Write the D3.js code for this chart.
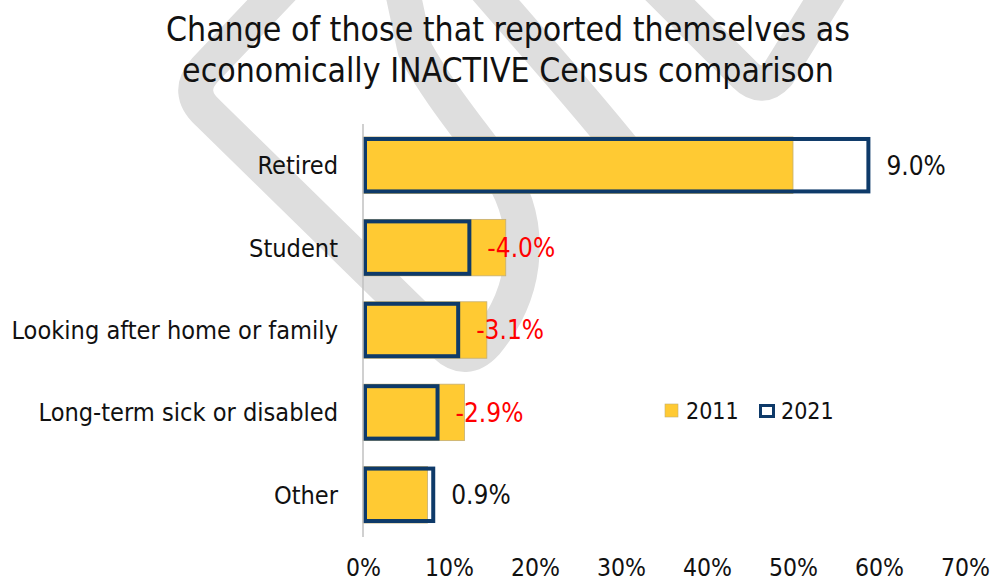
<!DOCTYPE html>
<html>
<head>
<meta charset="utf-8">
<script src="https://cdn.jsdelivr.net/npm/d3@7"></script>
<style>
  html, body { margin: 0; padding: 0; background: #ffffff; }
  svg { display: block; font-family: "DejaVu Sans Condensed", "DejaVu Sans", sans-serif; }
</style>
</head>
<body>
<svg id="chart" width="993" height="584"></svg>
<script>
// Economically inactive population by reason, share (%) at each Census
const categories = ["Retired", "Student", "Looking after home or family", "Long-term sick or disabled", "Other"];
const values2011 = [50.0, 16.6, 14.4, 11.8, 7.5];
const values2021 = [59.0, 12.6, 11.3, 8.9, 8.4];
const seriesNames = ["2011", "2021"];
const xTicks = [0, 10, 20, 30, 40, 50, 60, 70];
const titleLines = ["Change of those that reported themselves as", "economically INACTIVE Census comparison"];

const COLOR_2011 = "#ffca33";
const COLOR_2021 = "#0e3a69";
const svg = d3.select("#chart");

// Faint background emblem
const wm = svg.append("g")
  .attr("fill", "none")
  .attr("stroke", "#dedede")
  .attr("stroke-width", 35)
  .attr("stroke-linecap", "round")
  .attr("stroke-linejoin", "round");
wm.append("path").attr("d",
  "M 300,-30 L 205,70 Q 185,92 208,113 L 445,345 Q 466,365 486,343 " +
  "C 530,290 535,220 495,165 C 470,130 440,95 415,50 L 400,-20");
wm.append("path").attr("d", "M 470,-30 C 530,40 585,100 640,170");
wm.append("path").attr("d", "M 640,-30 L 745,75 Q 762,92 778,74 L 830,-10");

const x = d3.scaleLinear().domain([0, 70]).range([363, 965]);
const y = d3.scaleBand().domain(categories).range([124, 536])
  .paddingInner(0.315).paddingOuter(0.1575);

// Title
svg.append("g").selectAll("text").data(titleLines).join("text")
  .attr("x", 508).attr("y", (d, i) => 41 + i * 41)
  .attr("text-anchor", "middle")
  .attr("font-size", 33.5).attr("fill", "#111")
  .text(d => d);

const rows = categories.map((c, i) => ({
  cat: c, v11: values2011[i], v21: values2021[i], diff: values2021[i] - values2011[i]
}));

// 2011 bars (filled)
svg.append("g").selectAll("rect").data(rows).join("rect")
  .attr("x", x(0)).attr("y", d => y(d.cat))
  .attr("width", d => x(d.v11) - x(0))
  .attr("height", y.bandwidth())
  .attr("fill", COLOR_2011)
  .attr("stroke", "#c4ae72").attr("stroke-width", 0.8);

// 2021 bars (outline only)
const sw = 4;
svg.append("g").selectAll("rect").data(rows).join("rect")
  .attr("x", x(0) + sw / 2).attr("y", d => y(d.cat) + sw / 2)
  .attr("width", d => x(d.v21) - x(0) - sw)
  .attr("height", y.bandwidth() - sw)
  .attr("fill", "none")
  .attr("stroke", COLOR_2021).attr("stroke-width", sw);

// Vertical axis line
svg.append("line")
  .attr("x1", x(0)).attr("x2", x(0))
  .attr("y1", 124).attr("y2", 537)
  .attr("stroke", "#c0c0c0").attr("stroke-width", 1.5);

// Category labels
svg.append("g").selectAll("text").data(rows).join("text")
  .attr("x", 338).attr("y", d => y(d.cat) + y.bandwidth() / 2)
  .attr("dy", "0.36em")
  .attr("text-anchor", "end")
  .attr("font-size", 25.1).attr("fill", "#111")
  .text(d => d.cat);

// Change labels (plain hyphen for negatives)
const fmt = d3.formatLocale({ decimal: ".", thousands: ",", grouping: [3], currency: ["", ""], minus: "-" }).format(".1f");
svg.append("g").selectAll("text").data(rows).join("text")
  .attr("x", d => x(d.v21) + 16).attr("y", d => y(d.cat) + y.bandwidth() / 2)
  .attr("dy", "0.36em")
  .attr("font-size", 26)
  .attr("fill", d => d.diff < 0 ? "#ff0000" : "#111")
  .text(d => fmt(d.diff) + "%");

// X axis tick labels
const xAxis = d3.axisBottom(x).tickValues(xTicks).tickFormat(d => d + "%").tickSize(0).tickPadding(0);
const gx = svg.append("g").attr("transform", "translate(0,559)").call(xAxis);
gx.select(".domain").remove();
gx.selectAll("text")
  .attr("font-family", "DejaVu Sans Condensed, DejaVu Sans, sans-serif")
  .attr("font-size", 24.5).attr("fill", "#111")
  .attr("dy", "0.71em");

// Legend
const lg = svg.append("g").attr("transform", "translate(665,404)");
lg.append("rect").attr("x", 0).attr("y", 0).attr("width", 13).attr("height", 13)
  .attr("fill", COLOR_2011).attr("stroke", "#c4ae72").attr("stroke-width", 0.6);
lg.append("text").attr("x", 21).attr("y", 6.5).attr("dy", "0.36em")
  .attr("font-size", 23).attr("fill", "#111").text(seriesNames[0]);
lg.append("rect").attr("x", 95.5).attr("y", 1.5).attr("width", 13).attr("height", 11)
  .attr("fill", "none").attr("stroke", COLOR_2021).attr("stroke-width", 3);
lg.append("text").attr("x", 116).attr("y", 6.5).attr("dy", "0.36em")
  .attr("font-size", 23).attr("fill", "#111").text(seriesNames[1]);
</script>
</body>
</html>
